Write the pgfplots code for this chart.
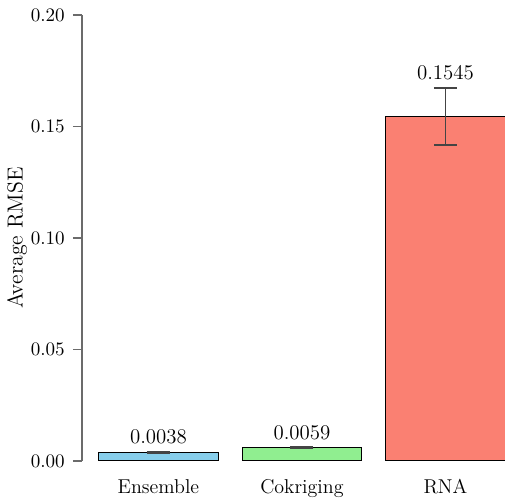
\documentclass[border=0pt]{standalone}
\usepackage{pgfplots}
\pgfplotsset{compat=1.18}

\definecolor{skyblue}{HTML}{87CEEB}
\definecolor{lightgreen}{HTML}{90EE90}
\definecolor{salmon}{HTML}{FA8072}
\definecolor{spinegray}{HTML}{6B6B6B}
\definecolor{errgray}{HTML}{444444}

\begin{document}
\begin{tikzpicture}
\begin{axis}[
  scale only axis,
  width=243.1pt, height=256.3pt,
  xmin=-0.533, xmax=2.415,
  ymin=0, ymax=0.20,
  axis y line*=left,
  axis x line*=bottom,
  x axis line style={draw=none},
  y axis line style={draw=spinegray, line width=0.7pt},
  xtick={0,1,2},
  xticklabels={Ensemble,Cokriging,RNA},
  xtick style={draw=none},
  xticklabel style={font=\fontsize{11.5}{13}\selectfont, yshift=-1.7pt},
  ytick={0,0.05,0.10,0.15,0.20},
  ytick style={draw=spinegray, line width=0.7pt},
  tick align=outside,
  major tick length=5.2pt,
  yticklabel style={font=\fontsize{10.5}{12}\selectfont, xshift=-1.2pt,
    /pgf/number format/.cd, fixed, fixed zerofill, precision=2},
  ylabel={Average RMSE},
  ylabel style={font=\fontsize{12.5}{14}\selectfont, yshift=-4.8pt},
  ybar, bar shift=0pt, bar width=0.833,
  clip=true,
  error bars/y dir=both,
  error bars/y explicit,
  error bars/error bar style={errgray, line width=1.0pt},
  error bars/error mark options={errgray, line width=1.0pt, mark size=6.6pt, rotate=90},
]
\addplot[fill=skyblue, draw=black, line width=0.6pt]
  coordinates {(0,0.0038) +- (0,0.0002)};
\addplot[fill=lightgreen, draw=black, line width=0.6pt]
  coordinates {(1,0.0059) +- (0,0.0002)};
\addplot[fill=salmon, draw=black, line width=0.6pt]
  coordinates {(2,0.1545) +- (0,0.0128)};

\node[font=\fontsize{12}{14}\selectfont, yshift=8.6pt] at (axis cs:0,0.0040) {0.0038};
\node[font=\fontsize{12}{14}\selectfont, yshift=8.6pt] at (axis cs:1,0.0061) {0.0059};
\node[font=\fontsize{12}{14}\selectfont, yshift=8.6pt] at (axis cs:2,0.1673) {0.1545};
\end{axis}
\pgfresetboundingbox
\useasboundingbox ([xshift=-47.1pt,yshift=-24.7pt]current axis.south west)
  rectangle ([yshift=8.6pt]current axis.north east);
\end{tikzpicture}
\end{document}
